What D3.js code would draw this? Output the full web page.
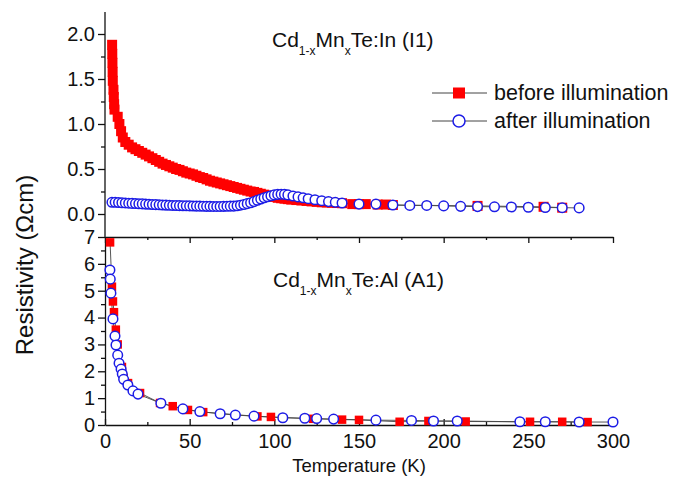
<!DOCTYPE html>
<html>
<head>
<meta charset="utf-8">
<script src="https://cdn.jsdelivr.net/npm/d3@7"></script>
<style>
  body { margin: 0; background: #fff; }
  text { font-family: "Liberation Sans", Arial, sans-serif; fill: #111; }
</style>
</head>
<body>
<div id="chart"></div>
<script>
// Data: [temperature K, resistivity Ohm cm]
const topBefore = [
    [4.2,1.88],[4.3,1.78],[4.4,1.68],[4.5,1.58],[4.6,1.48],[5.0,1.38],[5.2,1.30],[5.4,1.22],[5.6,1.16],
    [7.5,1.08],[8.5,1.0],[9.5,0.92],[10.5,0.85],[12,0.80],[14,0.77],[16,0.74],[18,0.72],[20,0.70],
    [22,0.68],[24,0.66],[26,0.64],[28,0.62],[30,0.60],[32,0.58],[34,0.56],[36,0.545],[38,0.53],
    [40,0.515],[42,0.5],[44,0.49],[46,0.475],[48,0.46],[50,0.45],[52,0.44],[54,0.425],[56,0.41],
    [58,0.40],[60,0.385],[62,0.37],[64,0.36],[66,0.35],[68,0.34],[70,0.33],[72,0.32],[74,0.31],
    [76,0.30],[78,0.29],[80,0.28],[82,0.27],[84,0.26],[86,0.25],[88,0.245],[90,0.235],[92,0.225],
    [94,0.215],[96,0.205],[98,0.195],[100,0.19],[102,0.18],[104,0.175],[106,0.17],[108,0.165],
    [110,0.16],[113,0.155],[116,0.15],[119,0.145],[122,0.14],[125,0.135],[128,0.13],[131,0.128],
    [134,0.125],[137,0.122],[140,0.12],[146,0.11],[150,0.11],[154,0.11],[161,0.105],[166,0.105],
    [170,0.1],[220,0.09],[259,0.08],[270,0.07]
];
const topAfter = [
    [4.1,0.13],[6,0.13],[8,0.128],[10,0.125],[12,0.123],[14,0.12],[16,0.118],[18,0.116],[20,0.114],
    [22,0.112],[24,0.11],[26,0.108],[28,0.106],[30,0.104],[32,0.102],[34,0.1],[36,0.099],[38,0.097],
    [40,0.095],[42,0.094],[44,0.093],[46,0.092],[48,0.091],[50,0.09],[52,0.089],[54,0.088],[56,0.087],
    [58,0.086],[60,0.085],[62,0.085],[64,0.084],[66,0.084],[68,0.084],[70,0.085],[72,0.086],[74,0.087],
    [76,0.088],[78,0.092],[80,0.098],[82,0.105],[84,0.115],[86,0.125],[88,0.138],[90,0.152],[92,0.166],
    [94,0.18],[96,0.192],[98,0.203],[100,0.212],[102,0.218],[104,0.22],[106,0.218],[108,0.212],
    [111,0.2],[114,0.19],[117,0.18],[120,0.17],[124,0.158],[128,0.148],[132,0.138],[136,0.13],
    [140,0.122],[150,0.11],[160,0.11],[170,0.1],[180,0.095],[190,0.095],[200,0.09],[210,0.085],
    [220,0.082],[230,0.08],[240,0.078],[250,0.075],[260,0.072],[270,0.07],[280,0.068]
];
const botBefore = [
    [3,6.8],[4.1,5.15],[4.7,4.6],[5.3,4.2],[6.4,3.55],[7.5,3.0],[10,2.16],[11,1.75],[13.6,1.56],
    [20.7,1.19],[32.5,0.82],[40,0.7],[49,0.56],[58,0.48],[90,0.32],[98,0.3],[123,0.23],[140,0.2],
    [150,0.19],[174,0.12],[191,0.15],[213,0.13],[251,0.12],[270,0.12],[285,0.11]
];
const botAfter = [
    [2.9,5.77],[3.1,5.43],[3.5,4.91],[4.7,3.95],[5.9,3.31],[6.5,2.98],[7.5,2.6],[8.3,2.3],[9.5,2.08],
    [10.2,1.9],[11,1.7],[13.5,1.49],[16.5,1.27],[19.5,1.15],[33,0.81],[46,0.6],[56,0.5],[68,0.42],
    [77,0.37],[88,0.33],[105,0.27],[118,0.25],[125,0.24],[135,0.22],[160,0.18],[181,0.17],[194,0.15],
    [208,0.15],[245,0.12],[260,0.12],[280,0.11],[300,0.11]
];
const xTicks = [0, 50, 100, 150, 200, 250, 300];
const xMinor = [25, 75, 125, 175, 225, 275];
const topTicks = [0, 0.5, 1.0, 1.5, 2.0];
const topMinor = [0.25, 0.75, 1.25, 1.75];
const botTicks = [0, 1, 2, 3, 4, 5, 6, 7];
const botMinor = [0.5, 1.5, 2.5, 3.5, 4.5, 5.5, 6.5];
const topLabel = ["Cd", "1-x", "Mn", "x", "Te:In (I1)"];
const botLabel = ["Cd", "1-x", "Mn", "x", "Te:Al (A1)"];
const legendNames = ["before illumination", "after illumination"];

const W = 682, H = 483;
const RED = "#ff0000", BLUE = "#1c1ce6", LINE = "#444";

const svg = d3.select("#chart").append("svg")
    .attr("width", W).attr("height", H)
    .style("background", "#fff");

const x = d3.scaleLinear().domain([0, 300]).range([105, 613]);
const yTop = d3.scaleLinear().domain([0, 2]).range([214, 34]);
const yBot = d3.scaleLinear().domain([0, 7]).range([425, 237]);

function styleAxis(g) {
    g.selectAll("path, line").attr("stroke", "#111").attr("stroke-width", 1.3);
    g.selectAll("text").attr("font-size", 20).attr("fill", "#111")
        .attr("font-family", '"Liberation Sans", Arial, sans-serif');
}

// ---- top panel: left axis only
svg.append("line")
    .attr("x1", x(0)).attr("x2", x(0))
    .attr("y1", yTop(2.245)).attr("y2", yBot(7))
    .attr("stroke", "#111").attr("stroke-width", 1.3);

svg.append("g").attr("transform", `translate(${x(0)},0)`)
    .call(d3.axisLeft(yTop).tickValues(topTicks).tickFormat(d3.format(".1f")).tickSize(7).tickPadding(3))
    .call(g => g.select(".domain").remove())
    .call(styleAxis);
svg.append("g").attr("transform", `translate(${x(0)},0)`)
    .call(d3.axisLeft(yTop).tickValues(topMinor).tickFormat("").tickSize(4))
    .call(g => g.select(".domain").remove())
    .call(styleAxis);

// ---- bottom panel axes
svg.append("g").attr("transform", `translate(${x(0)},0)`)
    .call(d3.axisLeft(yBot).tickValues(botTicks).tickFormat(d3.format("d")).tickSize(7).tickSizeOuter(0).tickPadding(3))
    .call(styleAxis);
svg.append("g").attr("transform", `translate(${x(0)},0)`)
    .call(d3.axisLeft(yBot).tickValues(botMinor).tickFormat("").tickSize(4))
    .call(g => g.select(".domain").remove())
    .call(styleAxis);

// top frame of bottom panel, ticks pointing inward
svg.append("g").attr("transform", `translate(0,${yBot(7)})`)
    .call(d3.axisBottom(x).tickValues(xTicks).tickFormat("").tickSize(6).tickSizeOuter(0))
    .call(styleAxis);
svg.append("g").attr("transform", `translate(0,${yBot(7)})`)
    .call(d3.axisBottom(x).tickValues(xMinor).tickFormat("").tickSize(3))
    .call(g => g.select(".domain").remove())
    .call(styleAxis);

// bottom axis, ticks pointing inward
svg.append("g").attr("transform", `translate(0,${yBot(0)})`)
    .call(d3.axisBottom(x).tickValues(xTicks).tickSize(-6).tickSizeOuter(0).tickPadding(9))
    .call(styleAxis);
svg.append("g").attr("transform", `translate(0,${yBot(0)})`)
    .call(d3.axisBottom(x).tickValues(xMinor).tickFormat("").tickSize(-3))
    .call(g => g.select(".domain").remove())
    .call(styleAxis);

// ---- series
function drawLine(data, y) {
    svg.append("path").datum(data)
        .attr("fill", "none").attr("stroke", LINE).attr("stroke-width", 0.9)
        .attr("d", d3.line().x(d => x(d[0])).y(d => y(d[1])));
}
function drawSquares(data, y, s) {
    svg.append("g").selectAll("rect").data(data).join("rect")
        .attr("x", d => x(d[0]) - s / 2).attr("y", d => y(d[1]) - s / 2)
        .attr("width", s).attr("height", s).attr("fill", RED);
}
function drawCircles(data, y, r) {
    svg.append("g").selectAll("circle").data(data).join("circle")
        .attr("cx", d => x(d[0])).attr("cy", d => y(d[1])).attr("r", r)
        .attr("fill", "#fff").attr("stroke", BLUE).attr("stroke-width", 1.5);
}

drawLine(topBefore, yTop);
drawLine(topAfter, yTop);
drawSquares(topBefore, yTop, 10);
drawCircles(topAfter, yTop, 4.8);

drawLine(botBefore, yBot);
drawLine(botAfter, yBot);
drawSquares(botBefore, yBot, 8.5);
drawCircles(botAfter, yBot, 4.8);

// ---- panel labels with subscripts
function panelLabel(parts, px, py) {
    const t = svg.append("text").attr("x", px).attr("y", py).attr("font-size", 21);
    parts.forEach((p, i) => {
        const sub = i % 2 === 1;
        t.append("tspan")
            .attr("font-size", sub ? 12 : 21)
            .attr("dy", i === 0 ? 0 : (sub ? 8 : -8))
            .text(p);
    });
}
panelLabel(topLabel, 272, 47);
panelLabel(botLabel, 273, 287);

// ---- legend
const legend = svg.append("g");
legendNames.forEach((name, i) => {
    const ly = 93 + i * 28;
    legend.append("line").attr("x1", 432).attr("x2", 487).attr("y1", ly).attr("y2", ly)
        .attr("stroke", LINE).attr("stroke-width", 1);
    if (i === 0) {
        legend.append("rect").attr("x", 453).attr("y", ly - 5.5).attr("width", 12).attr("height", 11).attr("fill", RED);
    } else {
        legend.append("circle").attr("cx", 459).attr("cy", ly).attr("r", 6)
            .attr("fill", "#fff").attr("stroke", BLUE).attr("stroke-width", 1.5);
    }
    legend.append("text").attr("x", 494).attr("y", ly + 7).attr("font-size", 21.5).text(name);
});

// ---- axis titles
svg.append("text")
    .attr("x", x(150)).attr("y", 472)
    .attr("text-anchor", "middle").attr("font-size", 18.5)
    .text("Temperature (K)");
svg.append("text")
    .attr("transform", "translate(33,265) rotate(-90)")
    .attr("text-anchor", "middle").attr("font-size", 24)
    .text("Resistivity (\u03A9cm)");
</script>
</body>
</html>
